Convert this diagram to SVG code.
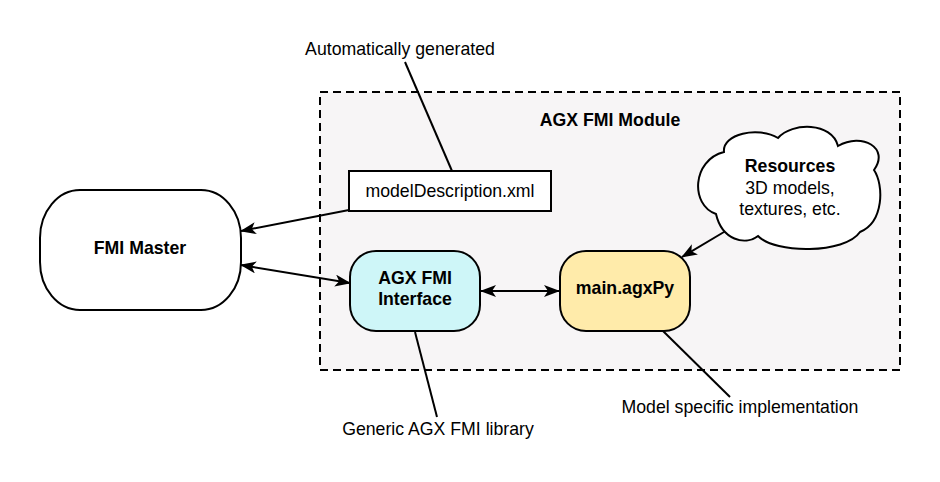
<svg xmlns="http://www.w3.org/2000/svg" width="940" height="482" viewBox="0 0 940 482">
<style>
  .t{font-family:"Liberation Sans",Arial,sans-serif;font-size:17.7px;fill:#000;text-anchor:middle}
  .b{font-weight:bold}
  .node{stroke:#000;stroke-width:2}
  .ln{stroke:#000;stroke-width:2;fill:none}
</style>
<defs>
  <marker id="arr" viewBox="0 0 16 12" refX="15" refY="6" markerWidth="16" markerHeight="12" markerUnits="userSpaceOnUse" orient="auto-start-reverse">
    <path d="M0,0 L16,6 L0,12 L4,6 Z" fill="#000"/>
  </marker>
</defs>
<rect width="940" height="482" fill="#fff"/>
<g id="module">
  <rect x="320" y="92" width="580" height="278" fill="#F7F5F6" stroke="#000" stroke-width="2" stroke-dasharray="8 5"/>
  <text class="t b" x="610" y="126">AGX FMI Module</text>
</g>
<g id="connectors">
  <line class="ln" x1="405" y1="62" x2="452" y2="171"/>
  <line class="ln" x1="415" y1="332" x2="437" y2="417"/>
  <line class="ln" x1="663" y1="331" x2="730" y2="397"/>
  <line class="ln" x1="349" y1="210" x2="241" y2="231" marker-end="url(#arr)"/>
  <line class="ln" x1="241" y1="265" x2="350" y2="283" marker-start="url(#arr)" marker-end="url(#arr)"/>
  <line class="ln" x1="481" y1="291" x2="559" y2="291" marker-start="url(#arr)" marker-end="url(#arr)"/>
  <line class="ln" x1="729" y1="229" x2="682" y2="257" marker-end="url(#arr)"/>
</g>
<g id="fmi-master">
  <rect class="node" x="40" y="190" width="201" height="120" rx="40" ry="48" fill="#fff"/>
  <text class="t b" x="140" y="254">FMI Master</text>
</g>
<g id="model-description">
  <rect class="node" x="349" y="171" width="202" height="40" fill="#fff"/>
  <text class="t" x="450" y="197">modelDescription.xml</text>
</g>
<g id="agx-fmi-interface">
  <rect class="node" x="350" y="251" width="130" height="80" rx="26" ry="26" fill="#CEF6F8"/>
  <text class="t b" x="415" y="284">AGX FMI</text>
  <text class="t b" x="415" y="305">Interface</text>
</g>
<g id="main-agxpy">
  <rect class="node" x="560" y="251" width="130" height="80" rx="26" ry="26" fill="#FFEBAA"/>
  <text class="t b" x="625" y="294">main.agxPy</text>
</g>
<g id="resources">
  <path class="node" fill="#fff" d="M724,152 C722,134 758,126 778,138 C792,122 832,122 838,146 C862,132 890,148 874,170 C884,185 884,222 860,232 C845,254 775,254 758,236 C745,246 722,240 716,214 C690,205 692,160 724,152 Z"/>
  <text class="t b" x="790" y="172">Resources</text>
  <text class="t" x="790" y="194">3D models,</text>
  <text class="t" x="790" y="215">textures, etc.</text>
</g>
<g id="label-auto">
  <text class="t" x="400" y="55">Automatically generated</text>
</g>
<g id="label-generic">
  <text class="t" x="438" y="435">Generic AGX FMI library</text>
</g>
<g id="label-model">
  <text class="t" x="740" y="413">Model specific implementation</text>
</g>
</svg>
